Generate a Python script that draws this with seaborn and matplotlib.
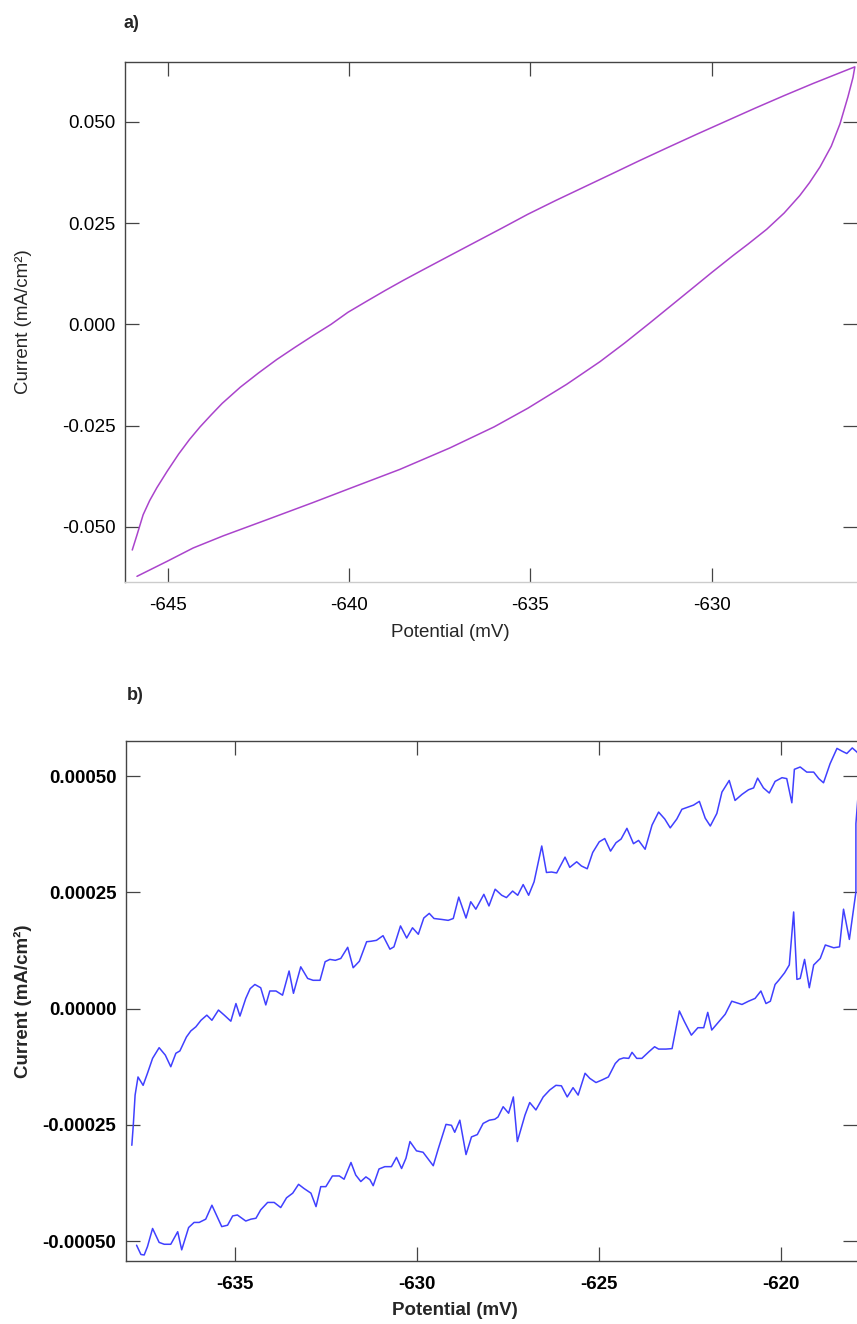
import matplotlib
matplotlib.use("Agg")
import matplotlib.pyplot as plt
import pandas as pd
import seaborn as sns
from matplotlib.ticker import FormatStrFormatter

# ==================== DATA ====================
# panel a) - forward scan (upper branch, left -> right)
a_fwd_potential = [-645.98, -645.85, -645.68, -645.50, -645.30, -645.02, -644.70, -644.40,
                   -644.11, -643.80, -643.50, -643.00, -642.50, -642.00, -641.50, -641.00,
                   -640.50, -640.03, -639.50, -639.00, -638.50, -638.00, -637.22, -636.50,
                   -635.80, -635.07, -634.30, -633.50, -632.70, -632.00, -631.23, -630.40,
                   -629.60, -628.80, -628.00, -627.20, -626.50, -626.05]
a_fwd_current = [-0.0557, -0.0520, -0.0470, -0.0435, -0.0403, -0.0363, -0.0320, -0.0284,
                 -0.0253, -0.0223, -0.0195, -0.0155, -0.0120, -0.0087, -0.0057, -0.0028,
                 0.0000, 0.0030, 0.0058, 0.0084, 0.0109, 0.0133, 0.0170, 0.0204,
                 0.0237, 0.0272, 0.0306, 0.0340, 0.0374, 0.0404, 0.0436, 0.0470,
                 0.0502, 0.0534, 0.0565, 0.0595, 0.0620, 0.0636]
# panel a) - reverse scan (lower branch, right -> left)
a_rev_potential = [-626.10, -626.24, -626.46, -626.70, -627.01, -627.30, -627.57, -628.00,
                   -628.48, -629.00, -629.41, -630.00, -630.41, -631.00, -631.70, -632.40,
                   -633.08, -634.00, -635.07, -636.00, -637.22, -638.60, -639.98, -641.00,
                   -642.26, -643.47, -644.30, -645.02, -645.85]
a_rev_current = [0.0610, 0.0562, 0.0495, 0.0440, 0.0389, 0.0350, 0.0318, 0.0275,
                 0.0235, 0.0198, 0.0170, 0.0128, 0.0098, 0.0055, 0.0004, -0.0046,
                 -0.0092, -0.0148, -0.0207, -0.0253, -0.0305, -0.0358, -0.0405, -0.0440,
                 -0.0482, -0.0522, -0.0552, -0.0585, -0.0622]

# panel b) - forward scan
b_fwd_potential = [
    -637.83, -637.79, -637.74, -637.66, -637.52, -637.40, -637.26, -637.08, -636.91, -636.76,
    -636.62, -636.51, -636.33, -636.21, -636.07, -635.93, -635.77, -635.63, -635.45, -635.29,
    -635.11, -634.97, -634.86, -634.70, -634.58, -634.45, -634.29, -634.15, -634.04, -633.87,
    -633.69, -633.51, -633.39, -633.19, -633.00, -632.85, -632.66, -632.52, -632.39, -632.24,
    -632.09, -631.90, -631.75, -631.58, -631.38, -631.26,
    -631.11, -630.93, -630.74, -630.63, -630.45, -630.28, -630.12, -629.96, -629.81, -629.66,
    -629.53, -629.32, -629.14, -629.00, -628.85, -628.65, -628.52, -628.38, -628.16, -628.02,
    -627.85, -627.67, -627.54, -627.37, -627.23, -627.08, -626.93, -626.78, -626.57, -626.44,
    -626.30, -626.16, -625.93, -625.80, -625.61, -625.48, -625.32, -625.17, -624.99, -624.84,
    -624.68,
    -624.53, -624.39, -624.23, -624.05, -623.91, -623.73, -623.54, -623.36, -623.19, -623.04,
    -622.86, -622.72, -622.54, -622.40, -622.24, -622.08, -621.94, -621.76, -621.62, -621.42,
    -621.26, -621.07, -620.89, -620.75, -620.64, -620.48, -620.32, -620.16, -619.97, -619.84,
    -619.70, -619.63, -619.47, -619.29, -619.10, -618.96, -618.83, -618.65, -618.46, -618.32,
    -618.19, -618.04, -617.91, -617.80,
]
b_fwd_current = [
    -0.000294, -0.000251, -0.000186, -0.000147, -0.000165, -0.000139, -0.000107, -0.000084,
    -0.000100, -0.000125, -0.000096, -0.000091, -0.000061, -0.000048, -0.000039, -0.000025,
    -0.000014, -0.000025, -0.000003, -0.000014, -0.000027, 0.000011, -0.000016, 0.000022,
    0.000043, 0.000052, 0.000045, 0.000008, 0.000038, 0.000038, 0.000029, 0.000081,
    0.000033, 0.000090, 0.000065, 0.000061, 0.000061, 0.000101, 0.000106, 0.000104,
    0.000108, 0.000132, 0.000088, 0.000102, 0.000144, 0.000145,
    0.000147, 0.000157, 0.000128, 0.000133, 0.000178, 0.000152, 0.000174, 0.000160,
    0.000195, 0.000205, 0.000194, 0.000192, 0.000190, 0.000194, 0.000240, 0.000195,
    0.000230, 0.000214, 0.000246, 0.000221, 0.000257, 0.000244, 0.000239, 0.000253,
    0.000244, 0.000267, 0.000244, 0.000273, 0.000350, 0.000293, 0.000294, 0.000292,
    0.000326, 0.000304, 0.000316, 0.000307, 0.000301, 0.000336, 0.000359, 0.000366,
    0.000339,
    0.000357, 0.000365, 0.000388, 0.000355, 0.000362, 0.000343, 0.000395, 0.000423,
    0.000408, 0.000389, 0.000408, 0.000429, 0.000434, 0.000438, 0.000446, 0.000410,
    0.000393, 0.000420, 0.000466, 0.000491, 0.000448, 0.000461, 0.000471, 0.000475,
    0.000496, 0.000475, 0.000464, 0.000489, 0.000497, 0.000495, 0.000443, 0.000515,
    0.000520, 0.000509, 0.000509, 0.000495, 0.000486, 0.000527, 0.000560, 0.000554,
    0.000549, 0.000561, 0.000552, 0.000540,
]
# panel b) - reverse scan
b_rev_potential = [
    -617.94, -617.94, -618.12, -618.28, -618.39, -618.55, -618.78, -618.92, -619.10, -619.22,
    -619.35, -619.47, -619.56, -619.65, -619.77, -619.90, -620.06, -620.16, -620.29, -620.41,
    -620.55, -620.71, -620.89, -621.07, -621.35, -621.53, -621.67, -621.90, -622.01, -622.12,
    -622.28, -622.46, -622.65, -622.79, -622.99, -623.16, -623.36, -623.47, -623.63, -623.82,
    -623.96, -624.09, -624.18, -624.32, -624.44, -624.55,
    -624.74, -624.93, -625.08, -625.25, -625.38, -625.57, -625.71, -625.87, -626.03, -626.18,
    -626.35, -626.53, -626.73, -626.90, -627.03, -627.24, -627.35, -627.48, -627.63, -627.77,
    -627.86, -628.01, -628.18, -628.34, -628.50, -628.65, -628.82, -628.96, -629.05, -629.20,
    -629.41, -629.55, -629.83, -630.01, -630.19, -630.30, -630.42, -630.56, -630.70, -630.88,
    -631.04, -631.20,
    -631.29, -631.40, -631.54, -631.68, -631.81, -632.00, -632.13, -632.32, -632.50, -632.64,
    -632.77, -632.91, -633.10, -633.25, -633.41, -633.58, -633.74, -633.92, -634.10, -634.29,
    -634.42, -634.56, -634.70, -634.93, -635.06, -635.20, -635.36, -635.63, -635.80, -635.98,
    -636.12, -636.27, -636.46, -636.57, -636.76, -636.94, -637.08, -637.26, -637.40, -637.49,
    -637.58, -637.70,
]
b_rev_current = [
    0.000398, 0.000251, 0.000149, 0.000214, 0.000133, 0.000131, 0.000137, 0.000108,
    0.000094, 0.000045, 0.000106, 0.000065, 0.000063, 0.000208, 0.000094, 0.000077,
    0.000061, 0.000052, 0.000016, 0.000011, 0.000038, 0.000022, 0.000016, 0.000009,
    0.000016, -0.000012, -0.000025, -0.000046, -0.000008, -0.000041, -0.000041, -0.000057,
    -0.000028, -0.000005, -0.000086, -0.000087, -0.000087, -0.000082, -0.000093, -0.000107,
    -0.000107, -0.000094, -0.000107, -0.000106, -0.000109, -0.000118,
    -0.000147, -0.000154, -0.000159, -0.000150, -0.000139, -0.000186, -0.000170, -0.000190,
    -0.000166, -0.000165, -0.000175, -0.000190, -0.000218, -0.000202, -0.000229, -0.000286,
    -0.000190, -0.000225, -0.000211, -0.000233, -0.000238, -0.000240, -0.000247, -0.000271,
    -0.000276, -0.000314, -0.000240, -0.000266, -0.000251, -0.000249, -0.000301, -0.000338,
    -0.000309, -0.000306, -0.000286, -0.000322, -0.000344, -0.000320, -0.000340, -0.000340,
    -0.000345, -0.000381,
    -0.000368, -0.000362, -0.000372, -0.000358, -0.000331, -0.000367, -0.000360, -0.000360,
    -0.000383, -0.000383, -0.000426, -0.000397, -0.000387, -0.000378, -0.000397, -0.000407,
    -0.000428, -0.000417, -0.000417, -0.000433, -0.000451, -0.000453, -0.000457, -0.000444,
    -0.000446, -0.000466, -0.000469, -0.000423, -0.000453, -0.000460, -0.000460, -0.000471,
    -0.000519, -0.000480, -0.000507, -0.000507, -0.000503, -0.000473, -0.000512, -0.000530,
    -0.000529, -0.000509,
]

a_xticks = [-645, -640, -635, -630]
a_yticks = [-0.050, -0.025, 0.000, 0.025, 0.050]
b_xticks = [-635, -630, -625, -620]
b_yticks = [-0.0005, -0.00025, 0.0, 0.00025, 0.0005]


# ==================== HELPERS ====================
def make_frame(fwd_x, fwd_y, rev_x, rev_y):
    """One continuous scan: forward branch followed by the reverse branch."""
    return pd.DataFrame({"Potential": fwd_x + rev_x, "Current": fwd_y + rev_y})


def draw_panel(ax, df, color, xlim, ylim, xticks, yticks, yfmt,
               size=13.5, weight="normal", light_ticks=()):
    sns.lineplot(data=df, x="Potential", y="Current", sort=False, estimator=None,
                 color=color, linewidth=1.1, ax=ax)
    ax.set_xlim(*xlim)
    ax.set_ylim(*ylim)
    ax.set_xticks(xticks)
    ax.set_yticks(yticks)
    ax.xaxis.set_major_formatter(FormatStrFormatter("%d"))
    ax.yaxis.set_major_formatter(FormatStrFormatter(yfmt))
    ax.tick_params(direction="in", length=10, width=0.9, top=True, right=True,
                   color="#444444", labelcolor="black", labelsize=size)
    ax.tick_params(axis="x", pad=11)
    ax.tick_params(axis="y", pad=7)
    for lbl in ax.get_xticklabels() + ax.get_yticklabels():
        lbl.set_fontweight(weight)
    for side in ("left", "top", "bottom"):
        ax.spines[side].set_color("#444444")
        ax.spines[side].set_linewidth(1.0)
    ax.spines["right"].set_visible(False)
    # some ticks appear washed out in the original scan
    for i in light_ticks:
        t = ax.yaxis.get_major_ticks()[i]
        t.tick1line.set_color("#cccccc")
        t.tick2line.set_color("#cccccc")
    ax.set_xlabel("Potential (mV)", fontsize=size, fontweight=weight)
    ax.set_ylabel("Current (mA/cm²)", fontsize=size, fontweight=weight)


# ==================== FIGURE ====================
sns.set_theme(style="ticks")
plt.rcParams["font.family"] = ["Liberation Sans", "DejaVu Sans"]

W, H = 857, 1324
fig = plt.figure(figsize=(W / 100, H / 100), dpi=100)

ax_a = fig.add_axes([125 / W, 1 - 582 / H, 1 - 125 / W, 520 / H])
ax_b = fig.add_axes([126 / W, 1 - 1261 / H, 1 - 126 / W, 520.5 / H])

df_a = make_frame(a_fwd_potential, a_fwd_current, a_rev_potential, a_rev_current)
df_b = make_frame(b_fwd_potential, b_fwd_current, b_rev_potential, b_rev_current)

draw_panel(ax_a, df_a, "#AA44CC", (-646.18, -625.99), (-0.0636, 0.0648),
           a_xticks, a_yticks, "%.3f", size=13.5, light_ticks=(1, 2, 3))
ax_a.spines["bottom"].set_color("#cccccc")
draw_panel(ax_b, df_b, "#4040FF", (-637.99, -617.91), (-0.000543, 0.000577),
           b_xticks, b_yticks, "%.5f", size=13.5, weight="bold")

ax_a.xaxis.set_label_coords(0.445, -0.081)
ax_b.xaxis.set_label_coords(0.45, -0.079)
ax_a.yaxis.set_label_coords((32 - 125) / 732, 0.5)
ax_b.yaxis.set_label_coords((32 - 126) / 731, 0.5)

fig.text(123 / W, 1 - 24 / H, "a)", fontsize=13, fontweight="bold", va="center")
fig.text(127 / W, 1 - 696 / H, "b)", fontsize=13, fontweight="bold", va="center")

fig.savefig("out.png", dpi=100, facecolor="white")
